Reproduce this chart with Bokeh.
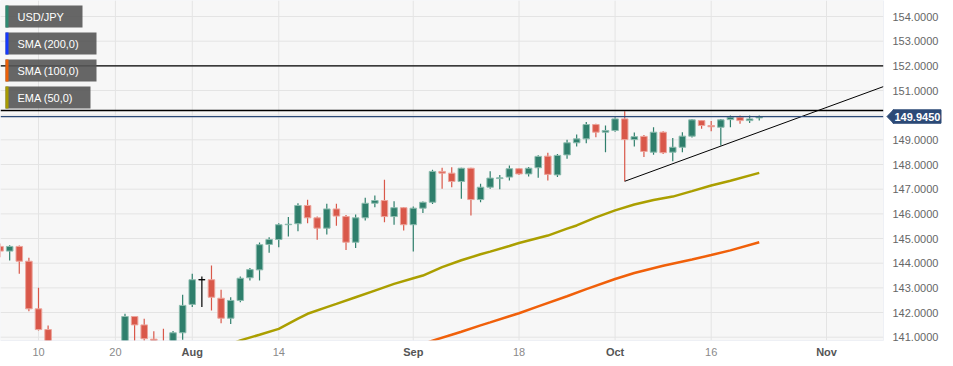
from bokeh.plotting import figure
from bokeh.models import Range1d, BoxAnnotation
from bokeh.core.properties import value
from bokeh.embed import file_html
from bokeh.resources import INLINE

# ---- data (trading-day index: 0 = Jul 10) ----
day_index = list(range(-4, 76))
opens = [144.68, 144.49, 144.68, 144.08, 142.15, 141.31, 140.35, 138.55, 138.00, 138.80,
         138.70, 138.90, 139.70, 140.10, 141.84, 141.50, 140.92, 140.30, 139.45, 141.18,
         142.33, 143.33, 143.33, 142.58, 141.77, 142.49, 143.41, 143.73, 144.76, 144.96,
         145.56, 145.60, 146.34, 145.84, 145.42, 146.20, 145.89, 144.85, 145.84, 146.43,
         146.54, 145.89, 146.25, 145.56, 146.23, 146.47, 147.72, 147.65, 147.31, 147.85,
         146.58, 147.08, 147.43, 147.49, 147.83, 147.62, 147.87, 148.34, 147.58, 148.39,
         148.88, 149.04, 149.62, 149.31, 149.38, 149.85, 149.01, 149.14, 148.50, 149.31,
         148.50, 148.70, 149.15, 149.78, 149.58, 149.51, 149.82, 149.92, 149.78, 149.89]
highs = [144.80, 144.73, 144.72, 144.22, 143.00, 141.47, 140.50, 139.00, 139.30, 139.40,
         139.10, 139.90, 140.50, 141.95, 141.86, 141.75, 141.24, 141.34, 141.25, 142.72,
         143.57, 143.46, 143.91, 142.92, 142.62, 143.46, 143.81, 144.84, 145.05, 145.62,
         145.87, 146.43, 146.57, 145.89, 146.41, 146.41, 145.95, 145.97, 146.65, 146.74,
         147.38, 146.51, 146.28, 146.30, 146.50, 147.79, 147.87, 147.89, 147.87, 147.87,
         147.22, 147.73, 147.58, 147.96, 147.86, 147.90, 148.38, 148.48, 148.43, 149.00,
         149.22, 149.72, 149.65, 149.58, 149.92, 150.16, 149.30, 149.20, 149.51, 149.35,
         149.08, 149.31, 149.83, 149.80, 149.76, 149.85, 149.99, 149.99, 149.99, 149.99]
lows = [144.24, 144.11, 143.57, 142.05, 141.27, 140.10, 138.20, 137.70, 137.20, 138.10,
        138.40, 138.80, 139.60, 139.80, 140.70, 140.30, 140.10, 139.20, 138.10, 140.90,
        142.22, 142.22, 142.08, 141.57, 141.54, 142.42, 143.30, 143.30, 144.42, 144.65,
        145.08, 145.30, 145.62, 144.95, 145.16, 145.52, 144.54, 144.62, 145.73, 146.27,
        145.66, 145.56, 145.33, 144.47, 146.03, 146.40, 147.02, 147.08, 146.61, 145.93,
        146.47, 147.02, 147.00, 147.35, 147.58, 147.51, 147.46, 147.35, 147.49, 148.23,
        148.73, 148.86, 149.11, 148.50, 149.33, 147.32, 148.73, 148.30, 148.40, 148.43,
        148.13, 148.50, 149.10, 149.45, 149.35, 148.77, 149.51, 149.65, 149.68, 149.78]
closes = [144.49, 144.68, 144.08, 142.15, 141.31, 140.35, 138.55, 138.00, 138.80, 138.70,
          138.90, 139.70, 140.10, 141.84, 141.50, 140.94, 140.30, 139.45, 141.18, 142.29,
          143.33, 143.33, 142.62, 141.77, 142.49, 143.39, 143.74, 144.75, 144.96, 145.56,
          145.58, 146.34, 145.84, 145.42, 146.20, 145.91, 144.85, 145.84, 146.43, 146.54,
          145.89, 146.25, 145.56, 146.23, 146.47, 147.72, 147.65, 147.31, 147.85, 146.58,
          147.08, 147.45, 147.46, 147.83, 147.62, 147.85, 148.33, 147.60, 148.37, 148.88,
          149.04, 149.62, 149.31, 149.38, 149.85, 149.01, 149.13, 148.53, 149.31, 148.48,
          148.70, 149.15, 149.81, 149.58, 149.53, 149.81, 149.92, 149.78, 149.85, 149.94]

ema50_idx = [20, 21, 23, 25, 27, 28, 30, 31, 33, 35, 37, 39, 40, 42, 44, 46, 47, 49, 50,
             52, 53, 55, 56, 58, 60, 62, 64, 66, 68, 70, 72, 75]
ema50_val = [140.72, 140.87, 141.10, 141.34, 141.75, 141.95, 142.22, 142.35, 142.62, 142.89,
             143.16, 143.39, 143.50, 143.84, 144.12, 144.36, 144.47, 144.70, 144.82, 145.02,
             145.12, 145.40, 145.53, 145.86, 146.14, 146.38, 146.56, 146.70, 146.92, 147.15,
             147.34, 147.66]
sma100_idx = [40, 41, 43, 44, 46, 47, 49, 50, 52, 55, 57, 60, 62, 65, 68, 70, 72, 75]
sma100_val = [140.72, 140.86, 141.10, 141.22, 141.48, 141.60, 141.85, 141.97, 142.25, 142.66,
              142.95, 143.36, 143.60, 143.90, 144.15, 144.33, 144.52, 144.85]

trend_idx = [61, 87.93]
trend_val = [147.32, 151.16]
resistance_levels = [152.0, 150.19]
last_price = 149.945

x_tick_idx = [0, 8, 16, 25, 39, 50, 60, 70, 82]
x_tick_labels = ["10", "20", "Aug", "14", "Sep", "18", "Oct", "16", "Nov"]
month_names = ["Aug", "Sep", "Oct", "Nov"]
y_ticks = list(range(141, 155))

legend_names = ["USD/JPY", "SMA (200,0)", "SMA (100,0)", "EMA (50,0)"]
legend_colors = ["#2e8a72", "#1438ff", "#ec5f06", "#a89b00"]

FONT = "Liberation Sans"

# layout helpers: canvas pixel -> data units (plot area spans px 0..883, 0..340)
def px2i(px):
    return (px - 38) / 9.61

def py2v(py):
    return 154 - (py - 16) / 24.67

W, H = 945, 358
PLOT_R, PLOT_B = 883, 340

p = figure(width=W, height=H,
           x_range=Range1d(px2i(0), px2i(W)), y_range=Range1d(py2v(H), py2v(0)),
           output_backend="svg", toolbar_location=None,
           x_axis_location=None, y_axis_location=None,
           min_border_left=0, min_border_top=0, min_border_right=0, min_border_bottom=0,
           background_fill_color="white", border_fill_color="white",
           outline_line_color=None)
p.grid.visible = False

x_left, x_right = px2i(0), px2i(PLOT_R)
y_top, y_bot = py2v(0), py2v(PLOT_B)

# plot-area background
p.add_layout(BoxAnnotation(left=x_left, right=x_right, top=y_top, bottom=y_bot,
                           fill_color="#f7f7f7", fill_alpha=1, line_color=None, level="underlay"))

# grid lines
GRID = "#e4e4e4"
p.segment(x0=[x_left] * len(y_ticks), x1=[x_right] * len(y_ticks), y0=y_ticks, y1=y_ticks,
          line_color=GRID, line_width=1)
p.segment(x0=x_tick_idx, x1=x_tick_idx, y0=[y_bot] * len(x_tick_idx), y1=[y_top] * len(x_tick_idx),
          line_color=GRID, line_width=1)

# indicator lines
p.line(ema50_idx, ema50_val, line_color="#ab9f00", line_width=2.5)
p.line(sma100_idx, sma100_val, line_color="#f0600a", line_width=2.5)

# candles
GREEN, RED = "#2f7f6c", "#d9584a"
GREEN_EDGE, RED_EDGE = "#8dbcaf", "#eca49b"
wick_col, body_fill, body_edge, tops, bottoms = [], [], [], [], []
for o, c in zip(opens, closes):
    if c > o:
        wick_col.append(GREEN); body_fill.append(GREEN); body_edge.append(GREEN_EDGE)
    elif c < o:
        wick_col.append(RED); body_fill.append(RED); body_edge.append(RED_EDGE)
    else:
        wick_col.append("black"); body_fill.append("black"); body_edge.append("black")
    tops.append(max(o, c)); bottoms.append(min(o, c))

p.segment(x0=day_index, y0=lows, x1=day_index, y1=highs, line_color=wick_col, line_width=1.2)
p.vbar(x=day_index, width=0.68, top=tops, bottom=bottoms,
       fill_color=body_fill, line_color=body_edge, line_width=1)

# trend line
p.line(trend_idx, trend_val, line_color="black", line_width=1)

# horizontal levels
n_lvl = len(resistance_levels)
p.segment(x0=[x_left] * n_lvl, x1=[x_right] * n_lvl, y0=resistance_levels, y1=resistance_levels,
          line_color="black", line_width=1.3)
NAVY = "#2c4a77"
p.segment(x0=[x_left], x1=[x_right], y0=[last_price], y1=[last_price], line_color=NAVY, line_width=1.3)

# masks outside the plot area (keep marks inside it)
p.add_layout(BoxAnnotation(left=px2i(0), right=px2i(W), top=y_bot, bottom=py2v(H + 5),
                           fill_color="white", fill_alpha=1, line_color=None))
p.add_layout(BoxAnnotation(left=x_right, right=px2i(W + 5), top=py2v(-5), bottom=py2v(H + 5),
                           fill_color="white", fill_alpha=1, line_color=None))
# plot-area border
p.add_layout(BoxAnnotation(left=x_left, right=x_right, top=y_top, bottom=y_bot,
                           fill_alpha=0, line_color="#ccd4e6", line_width=1))

# legend boxes
box_tops = [5, 32, 59, 86]
box_rights = [82, 96, 96, 90]
for name, col, bt, br in zip(legend_names, legend_colors, box_tops, box_rights):
    p.add_layout(BoxAnnotation(left=px2i(5), right=px2i(br), top=py2v(bt), bottom=py2v(bt + 22),
                               fill_color="#555555", fill_alpha=0.9, line_color=None))
    p.add_layout(BoxAnnotation(left=px2i(5), right=px2i(8), top=py2v(bt), bottom=py2v(bt + 22),
                               fill_color=col, fill_alpha=1, line_color=None))
p.text(x=[px2i(17)] * 4, y=[py2v(bt + 11.5) for bt in box_tops], text=legend_names,
       text_align="left", text_baseline="middle", text_font=value(FONT),
       text_font_size="11px", text_color="white", level="overlay")

# right price scale labels
ylab_vals = [t for t in y_ticks if t != 150]
p.text(x=[px2i(892)] * len(ylab_vals), y=ylab_vals, text=[f"{t:.4f}" for t in ylab_vals],
       text_align="left", text_baseline="middle", text_font=value(FONT),
       text_font_size="11px", text_color="#666666", level="overlay")

# bottom date labels
num_pos = [i for i, lab in zip(x_tick_idx, x_tick_labels) if lab not in month_names]
num_lab = [lab for lab in x_tick_labels if lab not in month_names]
mon_pos = [i for i, lab in zip(x_tick_idx, x_tick_labels) if lab in month_names]
mon_lab = [lab for lab in x_tick_labels if lab in month_names]
ylab = py2v(351.5)
p.text(x=num_pos, y=[ylab] * len(num_pos), text=num_lab, text_align="center",
       text_baseline="middle", text_font=value(FONT), text_font_size="11px",
       text_color="#8a8a8a", level="overlay")
p.text(x=mon_pos, y=[ylab] * len(mon_pos), text=mon_lab, text_align="center",
       text_baseline="middle", text_font=value(FONT), text_font_size="11px",
       text_font_style="bold", text_color="#555555", level="overlay")

# last-price tag
tag_h = 6.7 / 24.67
p.patch(x=[px2i(886.5), px2i(893), px2i(893)],
        y=[last_price, last_price + tag_h, last_price - tag_h],
        fill_color=NAVY, line_color=NAVY, level="overlay")
p.quad(left=[px2i(892.5)], right=[px2i(940.5)], top=[last_price + tag_h], bottom=[last_price - tag_h],
       fill_color=NAVY, line_color=NAVY, level="overlay")
p.text(x=[px2i(894)], y=[last_price], text=[f"{last_price:.4f}"], text_align="left",
       text_baseline="middle", text_font=value(FONT), text_font_size="11px",
       text_font_style="bold", text_color="white", level="overlay")

open("out.html", "w").write(file_html(p, INLINE))
